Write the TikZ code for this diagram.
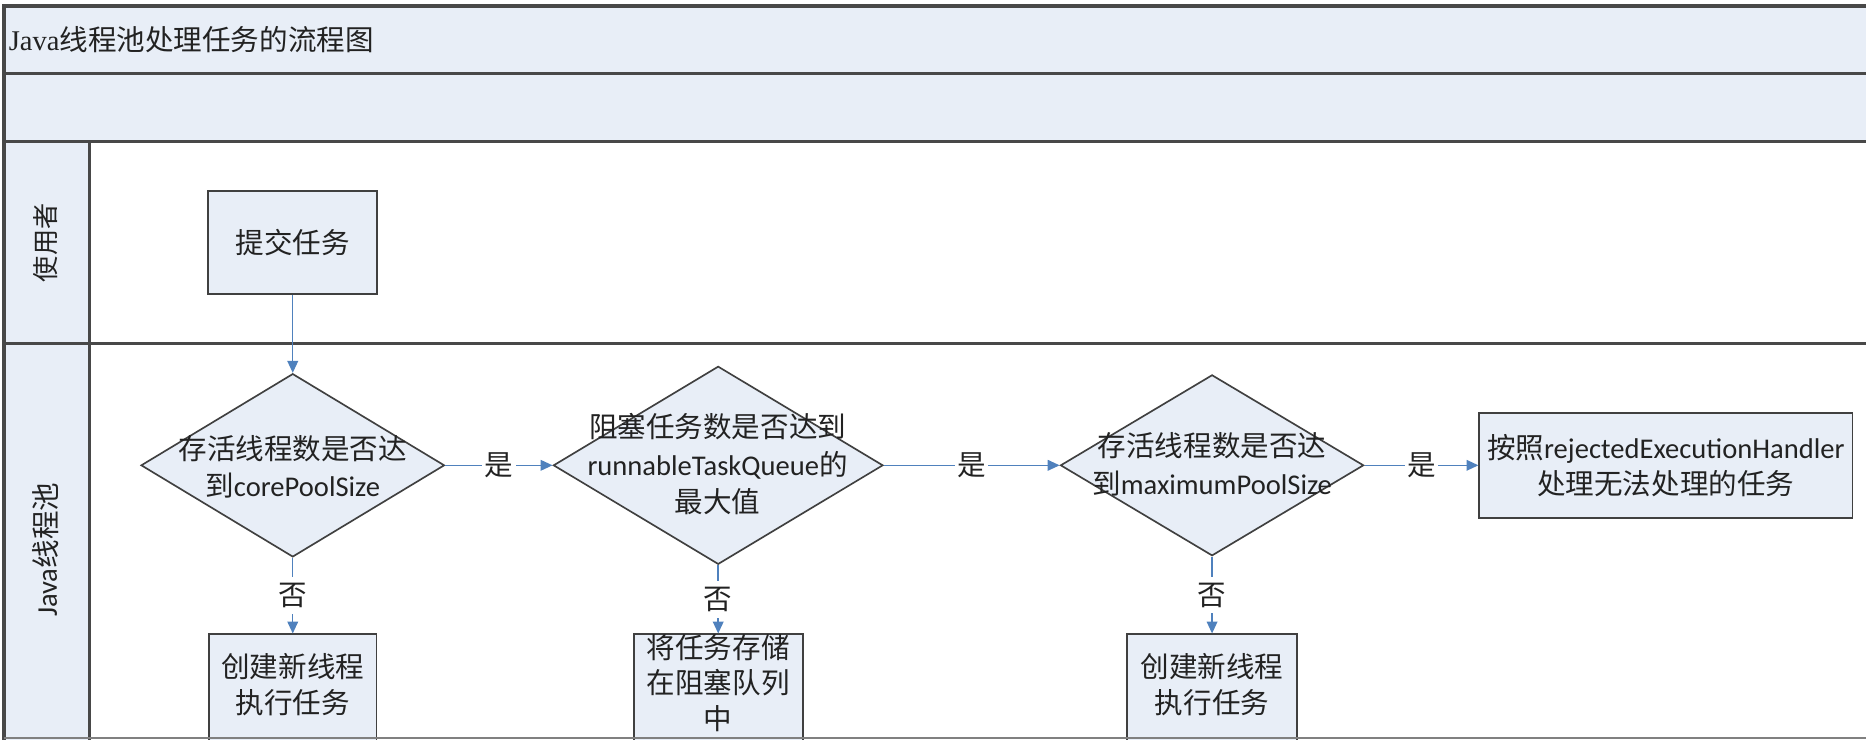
\documentclass[tikz,border=0pt]{standalone}
\usepackage{fontspec}
\setmainfont{Carlito}
\newfontfamily\cjk{Noto Sans CJK SC}
\newfontfamily\tms{Liberation Serif}
\usetikzlibrary{shapes.geometric,arrows.meta}
\definecolor{lanefill}{RGB}{232,238,247}
\definecolor{shapefill}{RGB}{232,238,247}
\definecolor{edgeblue}{RGB}{79,129,189}
\definecolor{strokegray}{RGB}{64,64,64}
\definecolor{linegray}{RGB}{72,72,72}
\definecolor{txtcol}{RGB}{34,34,34}
\begin{document}
\begin{tikzpicture}[x=0.5pt,y=-0.5pt,
  laneline/.style={draw=linegray,line width=1.4pt},
  procbox/.style={draw=strokegray,line width=0.7pt,fill=shapefill,rectangle,inner sep=0pt,align=center,text=txtcol,font={\fontsize{12pt}{15pt}\selectfont}},
  decis/.style={draw=strokegray,line width=0.7pt,fill=shapefill,diamond,inner sep=0pt},
  txtnode/.style={align=center,text=txtcol,inner sep=0pt},
  conn/.style={draw=edgeblue,line width=0.6pt,-{Triangle[length=5pt,width=4.5pt]}},
  lbl/.style={fill=white,text=txtcol,inner xsep=1pt,inner ysep=2.5pt,font={\cjk\fontsize{12pt}{14pt}\selectfont}}
]
\useasboundingbox (0,0) rectangle (1568,621);
\clip (0,0) rectangle (1568,621);
% lanes
\fill[lanefill] (3.3,5) rectangle (1575,118.8);
\fill[lanefill] (3.3,118.8) rectangle (75,630);
\draw[laneline] (1575,5) -- (3.3,5) -- (3.3,630);
\draw[laneline] (3.3,61.6) -- (1575,61.6);
\draw[laneline] (3.3,118.8) -- (1575,118.8);
\draw[laneline] (3.3,288.5) -- (1575,288.5);
\draw[laneline] (75,118.8) -- (75,630);
% titles
\node[anchor=west,text=txtcol,inner sep=0pt,font={\fontsize{12pt}{14pt}\selectfont}] (title) at (7,33) {{\tms Java}{\cjk 线程池处理任务的流程图}};
\node[rotate=90,text=txtcol,inner sep=0pt,font={\cjk\fontsize{11pt}{13pt}\selectfont}] (laneuser) at (38.6,204) {使用者};
\node[rotate=90,text=txtcol,inner sep=0pt,font={\fontsize{12pt}{14pt}\selectfont}] (lanepool) at (38.6,462) {Java{\cjk 线程池}};
% shapes
\node[procbox,minimum width=71pt,minimum height=43.25pt] (sub) at (246,203.75) {{\cjk 提交任务}};
\node[decis,minimum width=127.5pt,minimum height=77pt] (d1) at (246,391) {};
\node[decis,minimum width=138.5pt,minimum height=83.2pt] (d2) at (603.5,391) {};
\node[decis,minimum width=127.4pt,minimum height=76pt] (d3) at (1018.5,391) {};
\node[procbox,minimum width=156.75pt,minimum height=44pt] (rej) at (1399.75,391) {{\cjk 按照}rejectedExecutionHandler\\{\cjk 处理无法处理的任务}};
\node[procbox,minimum width=70.5pt,minimum height=50pt] (b1) at (246,583) {};
\node[procbox,minimum width=71pt,minimum height=50pt] (b2) at (603.5,583) {};
\node[procbox,minimum width=71.5pt,minimum height=50pt] (b3) at (1018.5,583) {};
% texts
\node[txtnode,font={\fontsize{12pt}{15.5pt}\selectfont}] (t1) at (246,392) {{\cjk 存活线程数是否达}\\{\cjk 到}corePoolSize};
\node[txtnode,font={\fontsize{12pt}{15.75pt}\selectfont}] (t2) at (603,390) {{\cjk 阻塞任务数是否达到}\\runnableTaskQueue{\cjk 的}\\{\cjk 最大值}};
\node[txtnode,font={\fontsize{12pt}{16pt}\selectfont}] (t3) at (1018.5,390) {{\cjk 存活线程数是否达}\\{\cjk 到}maximumPoolSize};
\node[txtnode,font={\fontsize{12pt}{15pt}\selectfont}] (tb1) at (246,575) {{\cjk 创建新线程}\\{\cjk 执行任务}};
\node[txtnode,font={\fontsize{12pt}{14.75pt}\selectfont}] (tb2) at (603.5,574) {{\cjk 将任务存储}\\{\cjk 在阻塞队列}\\{\cjk 中}};
\node[txtnode,font={\fontsize{12pt}{15pt}\selectfont}] (tb3) at (1018.5,575) {{\cjk 创建新线程}\\{\cjk 执行任务}};
% connectors
\draw[conn] (sub) -- (d1);
\draw[conn] (d1) -- node[lbl] {是} (d2);
\draw[conn] (d2) -- node[lbl] {是} (d3);
\draw[conn] (d3) -- node[lbl] {是} (rej);
\draw[conn] (d1) -- node[lbl] {否} (b1);
\draw[conn] (d2) -- node[lbl] {否} (b2);
\draw[conn] (d3) -- node[lbl] {否} (b3);
% bottom line
\draw[draw=gray,line width=1pt] (3.3,620) -- (1575,620);
\end{tikzpicture}
\end{document}
